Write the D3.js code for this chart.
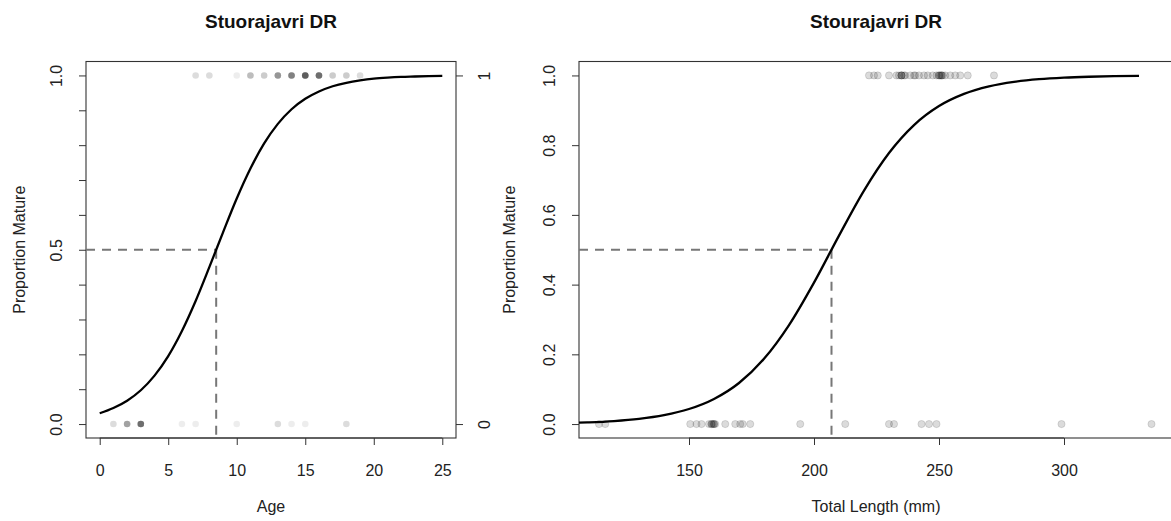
<!DOCTYPE html>
<html>
<head>
<meta charset="utf-8">
<script src="https://cdn.jsdelivr.net/npm/d3@7/dist/d3.min.js"></script>
<style>
  html, body { margin: 0; padding: 0; background: #fff; }
  svg { display: block; }
  text { font-family: "Liberation Sans", Arial, sans-serif; }
</style>
</head>
<body>
<svg id="chart" width="1171" height="521"></svg>
<script>
// ---------- data ----------
// Left panel: age
const ageTicks = [0, 5, 10, 15, 20, 25];
const ageYTicks = [0, 0.1, 0.2, 0.3, 0.4, 0.5, 0.6, 0.7, 0.8, 0.9, 1.0];
const ageYLabelled = [0, 0.5, 1.0];
const ageRightTicks = [0, 1];
const ageCurveX = [0, 1, 2, 3, 4, 5, 6, 7, 8, 9, 10, 11, 12, 13, 14, 15, 16, 17, 18, 19, 20, 21, 22, 23, 24, 25];
const ageCurveP = [0.031, 0.046, 0.067, 0.097, 0.139, 0.195, 0.267, 0.353, 0.450, 0.550, 0.647, 0.733, 0.805, 0.861, 0.903, 0.933, 0.954, 0.969, 0.979, 0.986, 0.991, 0.994, 0.996, 0.997, 0.998, 0.999];
const ageL50 = 8.5;
const immatureAges   = [1, 2, 3, 6, 7, 10, 13, 14, 15, 18];
const immatureCounts = [2, 6, 11, 1, 1, 1, 2, 1, 1, 2];
const matureAges     = [7, 8, 10, 11, 12, 13, 14, 15, 16, 17, 18, 19];
const matureCounts   = [2, 2, 1, 4, 3, 7, 9, 13, 11, 3, 3, 2];

// Right panel: total length
const lenTicks = [150, 200, 250, 300];
const lenYTicks = [0, 0.2, 0.4, 0.6, 0.8, 1.0];
const lenCurveX = [106, 110, 120, 130, 140, 150, 160, 170, 180, 190, 200, 210, 220, 230, 240, 250, 260, 270, 280, 290, 300, 310, 320, 330];
const lenCurveP = [0.0041, 0.0051, 0.0087, 0.0149, 0.0255, 0.0431, 0.0720, 0.1178, 0.1871, 0.2839, 0.4058, 0.5406, 0.6698, 0.7775, 0.8576, 0.9121, 0.9470, 0.9685, 0.9815, 0.9892, 0.9937, 0.9963, 0.9979, 0.9988];
const lenL50 = 207;
const immatureLengths = [114, 116.5, 150.5, 153, 155, 158, 159, 159, 159.5, 160, 160, 160.5, 164.5, 168.5, 170.5, 171.5, 174.5, 194.5, 212.5, 230, 232, 243, 246, 249, 299, 335];
const matureLengths = [222, 224, 225.5, 230, 233, 234, 235, 235, 235, 236, 236.5, 238.5, 240, 240.5, 242, 244, 245.5, 247.5, 249, 250, 250, 250.5, 251, 251, 251.5, 252.5, 254.5, 256.5, 258.5, 261.5, 272];

// ---------- layout ----------
const svg = d3.select("#chart");
const FONT = '"Liberation Sans", Arial, sans-serif';
const TXT = "#222";
const LINE = "#333";
const boxTop = 61.5, boxBot = 438;

const yS = d3.scaleLinear().domain([-0.04, 1.04]).range([boxBot, boxTop]);
const xL = d3.scaleLinear().domain([-1, 26]).range([86, 456]);
const xR = d3.scaleLinear().domain([106, 343.6]).range([579, 1173]);

function styleAxis(g) {
  g.select(".domain").remove();
  g.selectAll(".tick line").attr("stroke", LINE);
  g.selectAll(".tick text").attr("fill", TXT).style("font-size", "16px").style("font-family", FONT);
}

function panel(x, opts) {
  const [x0, x1] = x.range();
  const g = svg.append("g");

  // x axis
  const ax = g.append("g").attr("transform", `translate(0,${boxBot})`)
    .call(d3.axisBottom(x).tickValues(opts.xTicks).tickSize(7).tickPadding(19.5).tickFormat(d3.format("d")));
  styleAxis(ax);
  ax.append("line").attr("x1", x(opts.xTicks[0])).attr("x2", x(opts.xTicks[opts.xTicks.length - 1]))
    .attr("y1", 0).attr("y2", 0).attr("stroke", LINE);

  // y axis
  const ay = g.append("g").attr("transform", `translate(${x0},0)`)
    .call(d3.axisLeft(yS).tickValues(opts.yTicks).tickSize(7).tickFormat(opts.yFormat));
  styleAxis(ay);
  ay.selectAll(".tick text")
    .attr("x", null).attr("dy", null).attr("y", null)
    .attr("text-anchor", "middle")
    .attr("transform", "translate(-24,0) rotate(-90)");

  // box
  g.append("rect").attr("x", x0).attr("y", boxTop).attr("width", x1 - x0).attr("height", boxBot - boxTop)
    .attr("fill", "none").attr("stroke", LINE).attr("stroke-width", 1.1);

  // titles
  g.append("text").attr("x", (x0 + Math.min(x1, 1173)) / 2).attr("y", 28).attr("text-anchor", "middle")
    .style("font-size", "19px").style("font-weight", "bold").attr("fill", "#111").text(opts.title);
  g.append("text").attr("x", (x0 + x1) / 2).attr("y", 511.5).attr("text-anchor", "middle")
    .style("font-size", "16px").attr("fill", TXT).text(opts.xTitle);
  g.append("text").attr("transform", `translate(${opts.yTitleX},${(boxTop + boxBot) / 2}) rotate(-90)`)
    .attr("text-anchor", "middle").style("font-size", "16px").attr("fill", TXT).text("Proportion Mature");

  // dashed L50 lines
  const dash = "9,7";
  g.append("line").attr("x1", x(x.domain()[0])).attr("x2", x(opts.l50)).attr("y1", yS(0.5)).attr("y2", yS(0.5))
    .attr("stroke", "#777").attr("stroke-width", 2).attr("stroke-dasharray", dash);
  g.append("line").attr("x1", x(opts.l50)).attr("x2", x(opts.l50)).attr("y1", yS(0.5)).attr("y2", yS(yS.domain()[0]))
    .attr("stroke", "#777").attr("stroke-width", 2).attr("stroke-dasharray", dash);

  return g;
}

// ---------- left panel ----------
const gL = panel(xL, {
  xTicks: ageTicks, yTicks: ageYTicks,
  yFormat: d => ageYLabelled.some(v => Math.abs(v - d) < 1e-9) ? d3.format(".1f")(d) : "",
  title: "Stuorajavri DR", xTitle: "Age", yTitleX: 25, l50: ageL50
});

// right-side axis (0/1)
const ar = gL.append("g").attr("transform", `translate(456,0)`)
  .call(d3.axisRight(yS).tickValues(ageRightTicks).tickSize(7).tickFormat(d3.format("d")));
styleAxis(ar);
ar.selectAll(".tick text").attr("x", null).attr("dy", null).attr("y", null)
  .attr("text-anchor", "middle").attr("transform", "translate(34,0) rotate(-90)");

// left dots (stacked translucent)
const ageDots = [];
immatureAges.forEach((a, i) => d3.range(immatureCounts[i]).forEach(() => ageDots.push({ x: a, y: 0 })));
matureAges.forEach((a, i) => d3.range(matureCounts[i]).forEach(() => ageDots.push({ x: a, y: 1 })));
gL.append("g").selectAll("circle").data(ageDots).join("circle")
  .attr("cx", d => xL(d.x)).attr("cy", d => yS(d.y)).attr("r", 3.3)
  .attr("fill", "#000").attr("fill-opacity", 0.072);

// left curve
const ageCurve = ageCurveX.map((v, i) => [v, ageCurveP[i]]);
gL.append("path").datum(ageCurve)
  .attr("d", d3.line().x(d => xL(d[0])).y(d => yS(d[1])).curve(d3.curveMonotoneX))
  .attr("fill", "none").attr("stroke", "#000").attr("stroke-width", 2.3);

// ---------- right panel ----------
const gR = panel(xR, {
  xTicks: lenTicks, yTicks: lenYTicks, yFormat: d3.format(".1f"),
  title: "Stourajavri DR", xTitle: "Total Length (mm)", yTitleX: 515, l50: lenL50
});

const lenDots = immatureLengths.map(v => ({ x: v, y: 0 })).concat(matureLengths.map(v => ({ x: v, y: 1 })));
gR.append("g").selectAll("circle").data(lenDots).join("circle")
  .attr("cx", d => xR(d.x)).attr("cy", d => yS(d.y)).attr("r", 3.6)
  .attr("fill", "#000").attr("fill-opacity", 0.14)
  .attr("stroke", "#000").attr("stroke-opacity", 0.12).attr("stroke-width", 1);

const lenCurve = lenCurveX.map((v, i) => [v, lenCurveP[i]]);
gR.append("path").datum(lenCurve)
  .attr("d", d3.line().x(d => xR(d[0])).y(d => yS(d[1])).curve(d3.curveMonotoneX))
  .attr("fill", "none").attr("stroke", "#000").attr("stroke-width", 2.3);
</script>
</body>
</html>
